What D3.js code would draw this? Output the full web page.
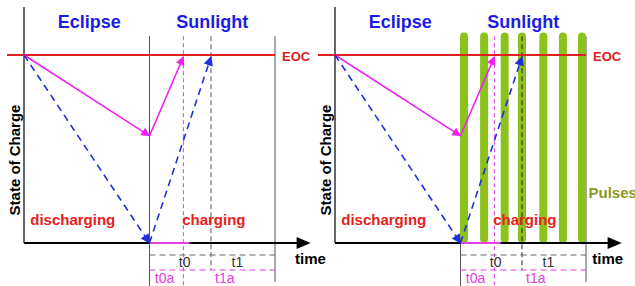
<!DOCTYPE html>
<html>
<head>
<meta charset="utf-8">
<script src="https://cdn.jsdelivr.net/npm/d3@7"></script>
<style>
  body { margin: 0; background: #fff; }
  svg { display: block; font-family: "Liberation Sans", Arial, sans-serif; }
</style>
</head>
<body>
<svg width="635" height="286"></svg>
<script>
// time axis: 0 = start of eclipse, 5 = start of sunlight, 10 = end of window
var phaseNames = ["Eclipse", "Sunlight"];
var phaseLabelT = [2.6, 7.5];
var sunStart = 5, windowEnd = 10;
var t0aEnd = 6.35, t1Start = 7.45;

// state of charge, EOC = 1
var magentaPath = [{t: 0, soc: 1}, {t: 5, soc: 0.57}, {t: 6.35, soc: 0.99}];
var bluePath = [{t: 0, soc: 1}, {t: 5, soc: 0}, {t: 7.45, soc: 0.99}];

var intervalLabels = ["t0", "t1"];
var intervalLabelT = [6.4, 8.5];
var intervalLabelsA = ["t0a", "t1a"];
var intervalLabelTA = [5.6, 8.0];

// solar array pulses on the right panel
var pulseT = [5.14, 5.94, 6.76, 7.45, 8.3, 9.08, 9.84];

var timeLabelT = [10.8, 10.25];

function drawPanel(svg, dx, pulsed, idx) {
    var x = d3.scaleLinear().domain([0, 10]).range([24, 275]);
    var y = d3.scaleLinear().domain([0, 1]).range([243, 55]);

    var g = svg.append("g").attr("transform", "translate(" + dx + ",0)");

    // axes
    g.append("line")
        .attr("x1", x(0)).attr("x2", x(0))
        .attr("y1", y(0)).attr("y2", y(1.255))
        .attr("stroke", "#333").attr("stroke-width", 1.5);

    // boundary lines
    g.append("line")
        .attr("x1", x(sunStart)).attr("x2", x(sunStart))
        .attr("y1", y(1.1)).attr("y2", 286)
        .attr("stroke", "#555").attr("stroke-width", 1);
    g.append("line")
        .attr("x1", x(windowEnd)).attr("x2", x(windowEnd))
        .attr("y1", y(1.1)).attr("y2", 282)
        .attr("stroke", "#555").attr("stroke-width", 1);

    if (pulsed) {
        g.selectAll("rect.pulse")
            .data(pulseT)
            .enter().append("rect")
            .attr("class", "pulse")
            .attr("x", function (d) { return x(d) - 4; })
            .attr("width", 8)
            .attr("y", y(1.12))
            .attr("height", y(0) - y(1.12))
            .attr("rx", 4)
            .attr("fill", "#8cc21c");
    }

    // t0a / t1 boundaries
    g.append("line")
        .attr("x1", x(t0aEnd)).attr("x2", x(t0aEnd))
        .attr("y1", y(1.1)).attr("y2", 286)
        .attr("stroke", "#e040e0").attr("stroke-width", 1)
        .attr("stroke-dasharray", "4,3");
    g.append("line")
        .attr("x1", x(t1Start)).attr("x2", x(t1Start))
        .attr("y1", y(1.1)).attr("y2", 270)
        .attr("stroke", pulsed ? "#222" : "#555").attr("stroke-width", 1)
        .attr("stroke-dasharray", "5,3");

    // EOC line
    g.append("line")
        .attr("x1", 7).attr("x2", x(windowEnd))
        .attr("y1", y(1)).attr("y2", y(1))
        .attr("stroke", "#e02020").attr("stroke-width", 2);
    g.append("text")
        .attr("x", x(10.28)).attr("y", y(1) + 6)
        .attr("fill", "#e02020").attr("font-weight", "bold").attr("font-size", 13)
        .text("EOC");

    // x axis
    g.append("line")
        .attr("x1", x(0)).attr("x2", x(11.0))
        .attr("y1", y(0)).attr("y2", y(0))
        .attr("stroke", "#000").attr("stroke-width", 2);
    g.append("path")
        .attr("d", "M" + x(11.42) + "," + y(0) + "l-14,-6l0,12z")
        .attr("fill", "#000");

    // magenta piece on the baseline
    g.append("line")
        .attr("x1", x(sunStart)).attr("x2", x(6.6))
        .attr("y1", y(0)).attr("y2", y(0))
        .attr("stroke", "#e040e0").attr("stroke-width", 2);

    // interval dashes
    g.append("line")
        .attr("x1", x(sunStart)).attr("x2", x(windowEnd))
        .attr("y1", 255).attr("y2", 255)
        .attr("stroke", "#666").attr("stroke-width", 1.2)
        .attr("stroke-dasharray", "6,4");
    g.append("line")
        .attr("x1", x(sunStart)).attr("x2", x(windowEnd))
        .attr("y1", 270).attr("y2", 270)
        .attr("stroke", "#e040e0").attr("stroke-width", 1.2)
        .attr("stroke-dasharray", "6,4");

    g.selectAll("text.tl")
        .data(intervalLabels)
        .enter().append("text")
        .attr("x", function (d, i) { return x(intervalLabelT[i]); })
        .attr("y", 267).attr("text-anchor", "middle")
        .attr("font-size", 14).attr("fill", "#333")
        .text(function (d) { return d; });
    g.selectAll("text.tla")
        .data(intervalLabelsA)
        .enter().append("text")
        .attr("x", function (d, i) { return x(intervalLabelTA[i]); })
        .attr("y", 283).attr("text-anchor", "middle")
        .attr("font-size", 14).attr("fill", "#e040e0")
        .text(function (d) { return d; });

    // SOC trajectories
    var line = d3.line()
        .x(function (d) { return x(d.t); })
        .y(function (d) { return y(d.soc); });

    for (var i = 0; i < 2; i++) {
        g.append("path")
            .attr("d", line(magentaPath.slice(i, i + 2)))
            .attr("fill", "none").attr("stroke", "#f020f0").attr("stroke-width", 1.5)
            .attr("marker-end", "url(#arrM)");
        g.append("path")
            .attr("d", line(bluePath.slice(i, i + 2)))
            .attr("fill", "none").attr("stroke", "#2030d8").attr("stroke-width", 1.6)
            .attr("stroke-dasharray", "7,5")
            .attr("marker-end", "url(#arrB)");
    }

    // labels
    g.selectAll("text.phase")
        .data(phaseNames)
        .enter().append("text")
        .attr("x", function (d, i) { return x(phaseLabelT[i]); })
        .attr("y", 28).attr("text-anchor", "middle")
        .attr("font-size", 18).attr("font-weight", "bold").attr("fill", "#1c1ce8")
        .text(function (d) { return d; });

    g.append("text")
        .attr("x", x(0.25)).attr("y", 225)
        .attr("font-size", 15).attr("font-weight", "bold").attr("fill", "#e82020")
        .text("discharging");
    g.append("text")
        .attr("x", x(6.3)).attr("y", 225)
        .attr("font-size", 15).attr("font-weight", "bold").attr("fill", "#e82020")
        .text("charging");

    g.append("text")
        .attr("transform", "translate(" + (x(0) - 4) + ",160) rotate(-90)")
        .attr("text-anchor", "middle")
        .attr("font-size", 15).attr("font-weight", "bold").attr("fill", "#000")
        .text("State of Charge");

    g.append("text")
        .attr("x", x(timeLabelT[idx])).attr("y", 264)
        .attr("font-size", 15).attr("font-weight", "bold").attr("fill", "#000")
        .text("time");

    if (pulsed) {
        g.append("text")
            .attr("x", x(10.1)).attr("y", 198)
            .attr("font-size", 15).attr("font-weight", "bold").attr("fill", "#8c9a1e")
            .text("Pulses");
    }
}

var svg = d3.select("svg");
var defs = svg.append("defs");
[["arrM", "#f020f0"], ["arrB", "#2030d8"]].forEach(function (m) {
    defs.append("marker")
        .attr("id", m[0])
        .attr("viewBox", "0 0 10 10")
        .attr("refX", 9).attr("refY", 5)
        .attr("markerWidth", 8).attr("markerHeight", 6)
        .attr("markerUnits", "strokeWidth")
        .attr("orient", "auto")
        .append("path")
        .attr("d", "M0,0L10,5L0,10z")
        .attr("fill", m[1]);
});

drawPanel(svg, 0, false, 0);
drawPanel(svg, 311, true, 1);
</script>
</body>
</html>
